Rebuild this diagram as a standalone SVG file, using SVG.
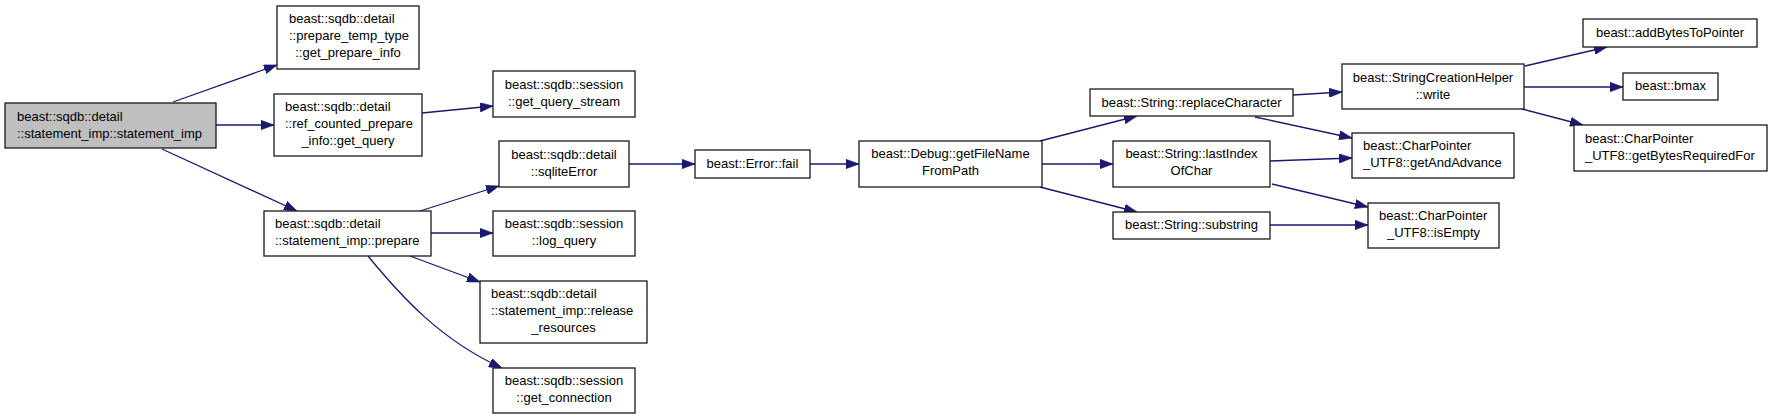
<svg xmlns="http://www.w3.org/2000/svg" width="1773" height="419" viewBox="0 0 1773 419">
<style>
.n rect{fill:#ffffff;stroke:#1a1a1a;stroke-width:1.3}
.n.root rect{fill:#bfbfbf}
.n text{font-family:"Liberation Sans",Arial,Helvetica,sans-serif;font-size:13px;fill:#000000}
.c{text-anchor:middle}
#edges path{fill:none;stroke:#191970;stroke-width:1.3;marker-end:url(#ah)}
</style>
<defs>
<marker id="ah" viewBox="0 0 13 9.4" refX="13" refY="4.7" markerWidth="13" markerHeight="9.4" markerUnits="userSpaceOnUse" orient="auto">
<path d="M0,0 L13,4.7 L0,9.4 z" fill="#191970" stroke="#191970" stroke-width="0.6"/>
</marker>
</defs>
<rect width="1773" height="419" fill="#ffffff"/>
<g id="edges">
<path d="M173,102 L277,65"/>
<path d="M216,125 L274,125"/>
<path d="M162,149 L297,211"/>
<path d="M422,113 L493,106"/>
<path d="M420,211 L499,186"/>
<path d="M431,233 L493,233"/>
<path d="M410,256 L480,282"/>
<path d="M368,256 C400,295 440,340 502,368"/>
<path d="M629,164 L695,164"/>
<path d="M810,164 L859,164"/>
<path d="M1040,141 L1137,116"/>
<path d="M1042,164 L1113,164"/>
<path d="M1040,187 L1137,212"/>
<path d="M1293,95 L1342,92"/>
<path d="M1255,117 L1352,138"/>
<path d="M1270,161 L1352,158"/>
<path d="M1272,184 L1368,207"/>
<path d="M1270,225 L1368,225"/>
<path d="M1525,66 L1607,47"/>
<path d="M1524,87 L1623,87"/>
<path d="M1522,109 L1583,125"/>
</g>
<g id="n_main" class="n root"><rect x="5" y="103" width="211" height="45"/><text x="17" y="121">beast::sqdb::detail</text><text x="17" y="138">::statement_imp::statement_imp</text></g>
<g id="n_ptt" class="n"><rect x="277" y="6" width="142" height="63"/><text x="289" y="23">beast::sqdb::detail</text><text x="289" y="40">::prepare_temp_type</text><text class="c" x="348" y="57">::get_prepare_info</text></g>
<g id="n_rcp" class="n"><rect x="274" y="94" width="148" height="62"/><text x="285" y="111">beast::sqdb::detail</text><text x="285" y="128">::ref_counted_prepare</text><text class="c" x="348" y="145">_info::get_query</text></g>
<g id="n_prep" class="n"><rect x="264" y="211" width="167" height="45"/><text x="275" y="228">beast::sqdb::detail</text><text x="275" y="245">::statement_imp::prepare</text></g>
<g id="n_gqs" class="n"><rect x="493" y="71" width="142" height="46"/><text class="c" x="564" y="89">beast::sqdb::session</text><text class="c" x="564" y="106">::get_query_stream</text></g>
<g id="n_sqe" class="n"><rect x="499" y="141" width="130" height="46"/><text class="c" x="564" y="159">beast::sqdb::detail</text><text class="c" x="564" y="176">::sqliteError</text></g>
<g id="n_logq" class="n"><rect x="493" y="211" width="142" height="45"/><text class="c" x="564" y="228">beast::sqdb::session</text><text class="c" x="564" y="245">::log_query</text></g>
<g id="n_rel" class="n"><rect x="480" y="281" width="167" height="62"/><text x="491" y="298">beast::sqdb::detail</text><text x="491" y="315">::statement_imp::release</text><text class="c" x="563.5" y="332">_resources</text></g>
<g id="n_conn" class="n"><rect x="493" y="368" width="142" height="45"/><text class="c" x="564" y="385">beast::sqdb::session</text><text class="c" x="564" y="402">::get_connection</text></g>
<g id="n_fail" class="n"><rect x="695" y="150" width="115" height="28"/><text class="c" x="752.5" y="168">beast::Error::fail</text></g>
<g id="n_gfn" class="n"><rect x="859" y="141" width="183" height="46"/><text class="c" x="950.5" y="158">beast::Debug::getFileName</text><text class="c" x="950.5" y="175">FromPath</text></g>
<g id="n_rc" class="n"><rect x="1090" y="89" width="203" height="27"/><text class="c" x="1191.5" y="107">beast::String::replaceCharacter</text></g>
<g id="n_li" class="n"><rect x="1113" y="141" width="157" height="46"/><text class="c" x="1191.5" y="158">beast::String::lastIndex</text><text class="c" x="1191.5" y="175">OfChar</text></g>
<g id="n_sub" class="n"><rect x="1113" y="212" width="157" height="27"/><text class="c" x="1191.5" y="229">beast::String::substring</text></g>
<g id="n_write" class="n"><rect x="1342" y="64" width="182" height="45"/><text class="c" x="1433" y="82">beast::StringCreationHelper</text><text class="c" x="1433" y="99">::write</text></g>
<g id="n_gaa" class="n"><rect x="1352" y="133" width="162" height="45"/><text x="1363" y="150">beast::CharPointer</text><text x="1363" y="167">_UTF8::getAndAdvance</text></g>
<g id="n_ie" class="n"><rect x="1368" y="203" width="131" height="45"/><text x="1379" y="220">beast::CharPointer</text><text class="c" x="1433.5" y="237">_UTF8::isEmpty</text></g>
<g id="n_abp" class="n"><rect x="1583" y="19" width="174" height="28"/><text class="c" x="1670" y="37">beast::addBytesToPointer</text></g>
<g id="n_bmax" class="n"><rect x="1623" y="73" width="95" height="27"/><text class="c" x="1670.5" y="90">beast::bmax</text></g>
<g id="n_gbr" class="n"><rect x="1574" y="125" width="193" height="46"/><text x="1585" y="143">beast::CharPointer</text><text x="1585" y="160">_UTF8::getBytesRequiredFor</text></g>
</svg>
